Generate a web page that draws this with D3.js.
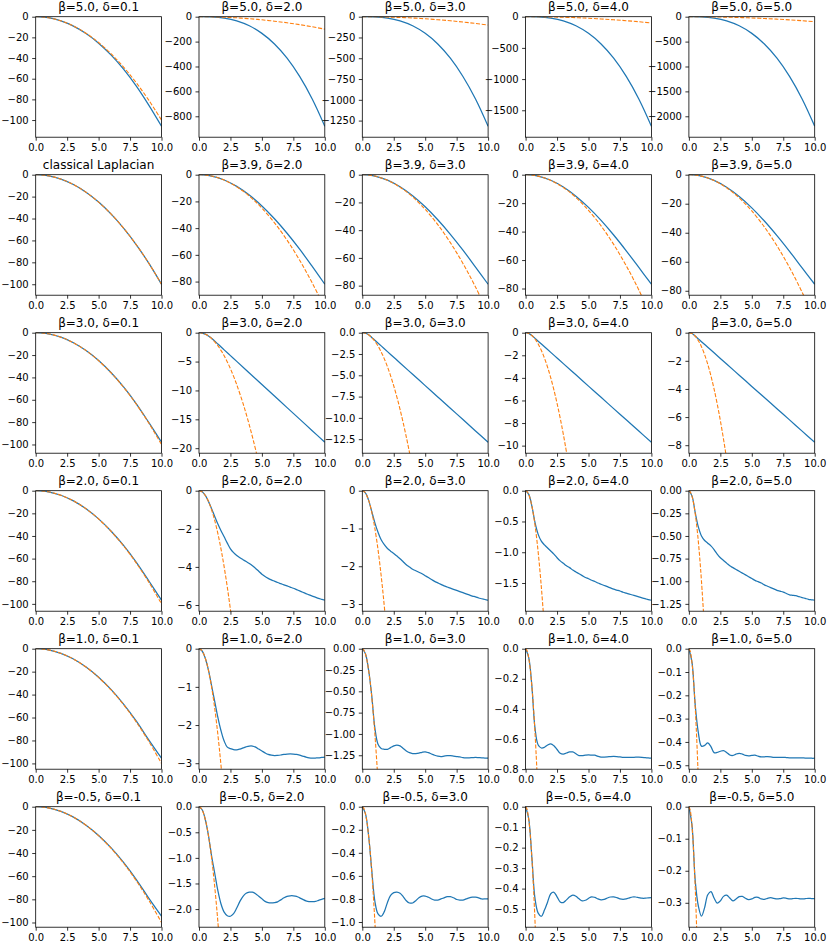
<!DOCTYPE html>
<html>
<head>
<meta charset="utf-8">
<script src="https://cdn.jsdelivr.net/npm/d3@7"></script>
<style>
  body { margin: 0; background: #fff; }
  svg { display: block; font-family: "DejaVu Sans", sans-serif; }
</style>
</head>
<body>
<svg id="chart" width="830" height="946"></svg>
<script>
// panel titles, row by row
const titles = [
  "β=5.0, δ=0.1", "β=5.0, δ=2.0", "β=5.0, δ=3.0", "β=5.0, δ=4.0", "β=5.0, δ=5.0",
  "classical Laplacian", "β=3.9, δ=2.0", "β=3.9, δ=3.0", "β=3.9, δ=4.0", "β=3.9, δ=5.0",
  "β=3.0, δ=0.1", "β=3.0, δ=2.0", "β=3.0, δ=3.0", "β=3.0, δ=4.0", "β=3.0, δ=5.0",
  "β=2.0, δ=0.1", "β=2.0, δ=2.0", "β=2.0, δ=3.0", "β=2.0, δ=4.0", "β=2.0, δ=5.0",
  "β=1.0, δ=0.1", "β=1.0, δ=2.0", "β=1.0, δ=3.0", "β=1.0, δ=4.0", "β=1.0, δ=5.0",
  "β=-0.5, δ=0.1", "β=-0.5, δ=2.0", "β=-0.5, δ=3.0", "β=-0.5, δ=4.0", "β=-0.5, δ=5.0"
];

// y tick step and decimals per panel
const yStep = [
  20, 200, 250, 500, 500,
  20, 20, 20, 20, 20,
  20, 5, 2.5, 2, 2,
  20, 2, 1, 0.5, 0.25,
  20, 1, 0.25, 0.2, 0.1,
  20, 0.5, 0.2, 0.1, 0.1
];
const yDec = [
  0, 0, 0, 0, 0,
  0, 0, 0, 0, 0,
  0, 0, 1, 0, 0,
  0, 0, 0, 1, 2,
  0, 0, 2, 1, 1,
  0, 1, 1, 1, 1
];
const xTicks = [0, 2.5, 5, 7.5, 10];

// x grids
const xInt = [0, 1, 2, 3, 4, 5, 6, 7, 8, 9, 10];
const xR3 = [0, 0.25, 0.5, 0.75, 1, 1.5, 2, 2.5, 3, 4, 5, 6, 7, 8, 9, 10];
const xQ = [0, 0.25, 0.5, 0.75, 1, 1.25, 1.5, 1.75, 2, 2.25, 2.5, 2.75, 3, 3.25, 3.5, 3.75,
  4, 4.25, 4.5, 4.75, 5, 5.25, 5.5, 5.75, 6, 6.25, 6.5, 6.75, 7, 7.25, 7.5, 7.75,
  8, 8.25, 8.5, 8.75, 9, 9.25, 9.5, 9.75, 10];

// orange dashed curve (same in every panel)
const orangeX = [0, 0.1, 0.2, 0.3, 0.4, 0.5, 0.6, 0.7, 0.8, 0.9, 1, 1.2, 1.4, 1.6, 1.8, 2,
  2.25, 2.5, 2.75, 3, 3.5, 4, 4.5, 5, 6, 7, 8, 9, 10];
const orangeY = [0, -0.01, -0.04, -0.09, -0.16, -0.25, -0.36, -0.49, -0.64, -0.81, -1, -1.44,
  -1.96, -2.56, -3.24, -4, -5.06, -6.25, -7.56, -9, -12.25, -16, -20.25, -25, -36, -49, -64, -81, -100];

// blue curves, row 1 (β=5.0)
const blueRow1 = [
  [0, -1, -4.1, -9.1, -16.3, -25.6, -37.2, -51, -67.2, -85.8, -106],
  [0, -1.5, -11, -33, -73, -134, -219, -333, -480, -661, -880],
  [0, -2, -16, -50, -109, -200, -328, -499, -719, -990, -1318],
  [0, -2.5, -22, -66, -146, -267, -437, -665, -957, -1319, -1756],
  [0, -3, -28, -83, -183, -335, -548, -833, -1199, -1652, -2200]
];
// row 2 (classical, β=3.9)
const blueRow2 = [
  [0, -1, -4, -9, -16, -25, -36, -49, -64, -81, -100],
  [0, -1, -3.94, -8.73, -15.27, -23.41, -32.99, -43.84, -55.76, -68.65, -82],
  [0, -1, -3.93, -8.69, -15.15, -23.14, -32.49, -42.98, -54.39, -66.6, -79],
  [0, -1, -3.92, -8.65, -15.07, -22.97, -32.15, -42.4, -53.5, -65.2, -77],
  [0, -1, -3.91, -8.63, -15.01, -22.83, -31.9, -41.97, -52.8, -64.2, -75.5]
];
// row 3 (β=3.0); first on xInt, rest on xR3
const blueR3C1 = [0, -1, -4, -9, -16, -24.9, -35.8, -48.7, -63.6, -80.5, -98];
const blueRow3 = [
  [0, -0.06, -0.25, -0.56, -0.97, -1.95, -2.97, -3.97, -4.97, -6.97, -8.97, -10.97, -12.97, -14.97, -16.97, -18.97],
  [0, -0.06, -0.25, -0.555, -0.89, -1.55, -2.22, -2.88, -3.55, -4.88, -6.21, -7.54, -8.87, -10.2, -11.53, -12.86],
  [0, -0.06, -0.25, -0.5, -0.75, -1.245, -1.74, -2.24, -2.74, -3.73, -4.73, -5.72, -6.72, -7.71, -8.71, -9.7],
  [0, -0.06, -0.24, -0.44, -0.64, -1.035, -1.43, -1.83, -2.23, -3.02, -3.82, -4.61, -5.41, -6.2, -7.0, -7.79]
];
// rows 4-6, first column on xInt
const blueR4C1 = [0, -1, -4, -9, -15.96, -24.9, -35.8, -48.6, -63.3, -79.8, -96.8];
const blueR5C1 = [0, -1, -4, -9, -15.95, -24.85, -35.7, -48.5, -63.2, -79.7, -95.5];
const blueR6C1 = [0, -1, -4, -9, -15.93, -24.8, -35.6, -48.3, -62.9, -79.2, -94.6];
// row 4 (β=2.0) columns 2-5 on xQ
const blueRow4 = [
  [0, -0.06, -0.25, -0.56, -0.95, -1.35, -1.75, -2.1, -2.42, -2.75, -3.05, -3.25, -3.4, -3.52, -3.62, -3.72,
   -3.82, -3.94, -4.08, -4.23, -4.38, -4.5, -4.6, -4.68, -4.75, -4.82, -4.88, -4.94, -5.0, -5.06, -5.12, -5.19,
   -5.26, -5.33, -5.4, -5.47, -5.53, -5.59, -5.65, -5.7, -5.75],
  [0, -0.06, -0.25, -0.55, -0.85, -1.1, -1.3, -1.43, -1.53, -1.6, -1.66, -1.73, -1.8, -1.88, -1.96, -2.02,
   -2.08, -2.12, -2.16, -2.2, -2.25, -2.3, -2.35, -2.4, -2.44, -2.48, -2.52, -2.55, -2.58, -2.61, -2.64, -2.67,
   -2.7, -2.73, -2.76, -2.79, -2.81, -2.84, -2.86, -2.88, -2.9],
  [0, -0.06, -0.25, -0.52, -0.71, -0.82, -0.88, -0.93, -0.98, -1.03, -1.09, -1.14, -1.18, -1.22, -1.25, -1.29,
   -1.32, -1.35, -1.38, -1.41, -1.43, -1.455, -1.475, -1.5, -1.52, -1.54, -1.56, -1.58, -1.6, -1.615, -1.63, -1.65,
   -1.665, -1.68, -1.695, -1.71, -1.725, -1.74, -1.755, -1.77, -1.78],
  [0, -0.06, -0.24, -0.4, -0.5, -0.55, -0.58, -0.61, -0.65, -0.7, -0.74, -0.77, -0.8, -0.83, -0.85, -0.87,
   -0.89, -0.91, -0.93, -0.95, -0.97, -0.99, -1.005, -1.02, -1.04, -1.055, -1.07, -1.085, -1.1, -1.11, -1.12, -1.135,
   -1.15, -1.155, -1.16, -1.17, -1.18, -1.19, -1.2, -1.205, -1.21]
];
// row 5 (β=1.0)
const blueRow5 = [
  [0, -0.06, -0.25, -0.56, -0.97, -1.38, -1.8, -2.15, -2.42, -2.58, -2.62, -2.645, -2.65, -2.63, -2.6, -2.57,
   -2.55, -2.55, -2.58, -2.63, -2.68, -2.73, -2.77, -2.79, -2.8, -2.795, -2.785, -2.77, -2.76, -2.755, -2.76, -2.77,
   -2.79, -2.815, -2.84, -2.86, -2.87, -2.865, -2.86, -2.85, -2.84],
  [0, -0.06, -0.25, -0.55, -0.93, -1.12, -1.17, -1.18, -1.18, -1.16, -1.14, -1.13, -1.14, -1.17, -1.2, -1.22,
   -1.23, -1.23, -1.225, -1.215, -1.21, -1.22, -1.235, -1.25, -1.26, -1.265, -1.26, -1.255, -1.255, -1.26, -1.265, -1.27,
   -1.277, -1.28, -1.28, -1.278, -1.276, -1.278, -1.28, -1.283, -1.285],
  [0, -0.06, -0.25, -0.53, -0.64, -0.66, -0.655, -0.64, -0.632, -0.645, -0.67, -0.695, -0.7, -0.693, -0.686, -0.686,
   -0.698, -0.71, -0.711, -0.708, -0.706, -0.707, -0.708, -0.715, -0.72, -0.72, -0.719, -0.717, -0.716, -0.717, -0.719, -0.722,
   -0.723, -0.722, -0.722, -0.721, -0.721, -0.722, -0.724, -0.726, -0.728],
  [0, -0.06, -0.24, -0.36, -0.418, -0.415, -0.404, -0.42, -0.446, -0.445, -0.44, -0.437, -0.445, -0.456, -0.458, -0.452,
   -0.449, -0.452, -0.458, -0.46, -0.458, -0.457, -0.461, -0.464, -0.464, -0.463, -0.464, -0.466, -0.466, -0.466, -0.466, -0.467,
   -0.468, -0.468, -0.468, -0.468, -0.468, -0.469, -0.469, -0.47, -0.47]
];
// row 6 (β=-0.5)
const blueRow6 = [
  [0, -0.06, -0.25, -0.56, -0.96, -1.3, -1.64, -1.9, -2.06, -2.13, -2.14, -2.09, -1.98, -1.85, -1.75, -1.69,
   -1.67, -1.67, -1.7, -1.75, -1.8, -1.85, -1.875, -1.88, -1.875, -1.86, -1.82, -1.78, -1.75, -1.74, -1.74, -1.75,
   -1.78, -1.81, -1.84, -1.855, -1.855, -1.85, -1.83, -1.81, -1.79],
  [0, -0.06, -0.25, -0.55, -0.82, -0.93, -0.95, -0.91, -0.83, -0.77, -0.745, -0.74, -0.75, -0.78, -0.815, -0.835,
   -0.835, -0.815, -0.79, -0.775, -0.775, -0.785, -0.8, -0.81, -0.81, -0.8, -0.79, -0.78, -0.78, -0.79, -0.805, -0.81,
   -0.81, -0.8, -0.79, -0.785, -0.785, -0.79, -0.8, -0.8, -0.8],
  [0, -0.06, -0.25, -0.45, -0.52, -0.535, -0.505, -0.465, -0.425, -0.418, -0.44, -0.465, -0.468, -0.455, -0.44, -0.432,
   -0.437, -0.45, -0.46, -0.457, -0.448, -0.44, -0.443, -0.45, -0.455, -0.453, -0.446, -0.441, -0.44, -0.444, -0.45, -0.452,
   -0.45, -0.445, -0.441, -0.441, -0.444, -0.447, -0.447, -0.445, -0.444],
  [0, -0.06, -0.23, -0.31, -0.342, -0.315, -0.275, -0.265, -0.285, -0.301, -0.294, -0.28, -0.276, -0.285, -0.294, -0.288,
   -0.281, -0.28, -0.286, -0.29, -0.288, -0.283, -0.283, -0.288, -0.289, -0.286, -0.284, -0.286, -0.288, -0.287, -0.285, -0.286,
   -0.288, -0.287, -0.286, -0.287, -0.288, -0.287, -0.286, -0.287, -0.287]
];

// put panels together (x grid + blue values)
const panels = [];
blueRow1.forEach((v) => panels.push({ bx: xInt, by: v }));
blueRow2.forEach((v) => panels.push({ bx: xInt, by: v }));
panels.push({ bx: xInt, by: blueR3C1 });
blueRow3.forEach((v) => panels.push({ bx: xR3, by: v }));
panels.push({ bx: xInt, by: blueR4C1 });
blueRow4.forEach((v) => panels.push({ bx: xQ, by: v }));
panels.push({ bx: xInt, by: blueR5C1 });
blueRow5.forEach((v) => panels.push({ bx: xQ, by: v }));
panels.push({ bx: xInt, by: blueR6C1 });
blueRow6.forEach((v) => panels.push({ bx: xQ, by: v }));
panels.forEach((p, i) => {
  p.title = titles[i];
  p.step = yStep[i];
  p.dec = yDec[i];
});

// layout
const left0 = 35.7, dx = 163.3, w = 125.8;
const top0 = 16.7, dy = 158, h = 120.5;
const blue = "#1f77b4", orange = "#ff7f0e";

const svg = d3.select("#chart");
svg.append("rect").attr("width", 830).attr("height", 946).attr("fill", "#fff");
const defs = svg.append("defs");

panels.forEach((p, i) => {
  const col = i % 5, row = Math.floor(i / 5);
  const g = svg.append("g")
    .attr("transform", `translate(${left0 + col * dx},${top0 + row * dy})`);

  const ymin = 1.1 * d3.min(p.by);
  const x = d3.scaleLinear().domain([0, 10]).range([0, w]);
  const y = d3.scaleLinear().domain([ymin, 0]).range([h, 0]);

  defs.append("clipPath").attr("id", `clip${i}`)
    .append("rect").attr("width", w).attr("height", h);

  const line = d3.line()
    .x((d) => x(d[0]))
    .y((d) => y(d[1]))
    .curve(d3.curveCatmullRom.alpha(0.5));

  const plot = g.append("g").attr("clip-path", `url(#clip${i})`);
  plot.append("path")
    .attr("d", line(d3.zip(p.bx, p.by)))
    .attr("fill", "none")
    .attr("stroke", blue)
    .attr("stroke-width", 1.25);
  plot.append("path")
    .attr("d", line(d3.zip(orangeX, orangeY)))
    .attr("fill", "none")
    .attr("stroke", orange)
    .attr("stroke-width", 1.1)
    .attr("stroke-dasharray", "4,1.7");

  // axes
  const n = Math.floor(-ymin / p.step + 1e-6);
  const yTicks = d3.range(n + 1).map((k) => -k * p.step);
  const fmt = d3.format(`.${p.dec}f`);
  const ax = g.append("g")
    .call(d3.axisLeft(y).tickValues(yTicks).tickFormat(fmt)
      .tickSize(3.5).tickPadding(3.5).tickSizeOuter(0));
  const bx = g.append("g").attr("transform", `translate(0,${h})`)
    .call(d3.axisBottom(x).tickValues(xTicks).tickFormat(d3.format(".1f"))
      .tickSize(3.5).tickPadding(3.5).tickSizeOuter(0));
  [ax, bx].forEach((a) => {
    a.select(".domain").remove();
    a.selectAll("line").attr("stroke", "#000").attr("stroke-width", 0.8);
    a.selectAll("text").attr("fill", "#000")
      .style("font-size", "10px").style("font-family", "DejaVu Sans");
  });

  g.append("rect")
    .attr("width", w).attr("height", h)
    .attr("fill", "none").attr("stroke", "#000").attr("stroke-width", 0.8);

  g.append("text")
    .attr("x", w / 2).attr("y", -6)
    .attr("text-anchor", "middle")
    .style("font-size", "12px")
    .text(p.title);
});
</script>
</body>
</html>
